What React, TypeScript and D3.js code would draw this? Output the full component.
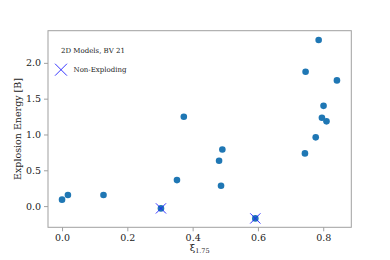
import React, { useRef, useEffect } from 'react';
import * as d3 from 'd3';

// exploding models
const xiValues = [0.0, 0.018, 0.127, 0.352, 0.373, 0.491, 0.481, 0.487, 0.744, 0.786, 0.746, 0.842, 0.801, 0.796, 0.81, 0.777];
const energyValues = [0.09, 0.154, 0.154, 0.363, 1.247, 0.79, 0.633, 0.284, 0.736, 2.32, 1.876, 1.755, 1.4, 1.233, 1.183, 0.96];

// non-exploding models
const failXi = [0.303, 0.592];
const failEnergy = [-0.032, -0.172];

const xTicks = [0.0, 0.2, 0.4, 0.6, 0.8];
const yTicks = [0.0, 0.5, 1.0, 1.5, 2.0];

const App = () => {
    const svgRef = useRef<SVGSVGElement>(null);

    useEffect(() => {
        if (!svgRef.current) return;
        const svg = d3.select(svgRef.current);
        svg.selectAll('*').remove();

        const left = 48, top = 30.7, right = 351.3, bottom = 227.3;
        const font = 'DejaVu Serif';
        const grey = '#a0a0a0';

        const x = d3.scaleLinear().domain([-0.043, 0.886]).range([left, right]);
        const y = d3.scaleLinear().domain([-0.296, 2.449]).range([bottom, top]);

        // frame
        svg.append('rect')
            .attr('x', left)
            .attr('y', top)
            .attr('width', right - left)
            .attr('height', bottom - top)
            .attr('fill', 'none')
            .attr('stroke', grey)
            .attr('stroke-width', 1);

        // x axis
        const xAxis = svg.append('g').attr('transform', `translate(0,${bottom})`)
            .call(d3.axisBottom(x).tickValues(xTicks).tickFormat(d3.format('.1f')).tickSize(4).tickPadding(3));
        xAxis.select('.domain').remove();
        xAxis.selectAll('line').attr('stroke', grey);
        xAxis.selectAll('text').attr('font-family', font).attr('font-size', 9.5).attr('fill', '#222');

        // y axis
        const yAxis = svg.append('g').attr('transform', `translate(${left},0)`)
            .call(d3.axisLeft(y).tickValues(yTicks).tickFormat(d3.format('.1f')).tickSize(4).tickPadding(3));
        yAxis.select('.domain').remove();
        yAxis.selectAll('line').attr('stroke', grey);
        yAxis.selectAll('text').attr('font-family', font).attr('font-size', 9.5).attr('fill', '#222');

        // axis labels
        const xl = svg.append('text')
            .attr('x', (left + right) / 2)
            .attr('y', 251)
            .attr('text-anchor', 'middle')
            .attr('font-family', font)
            .attr('fill', '#222');
        xl.append('tspan').attr('font-size', 10).text('ξ');
        xl.append('tspan').attr('font-size', 6.5).attr('dy', 2).text('1.75');

        svg.append('text')
            .attr('transform', `translate(21,${(top + bottom) / 2}) rotate(-90)`)
            .attr('text-anchor', 'middle')
            .attr('font-family', font)
            .attr('font-size', 9.5)
            .attr('fill', '#222')
            .text('Explosion Energy [B]');

        // points
        svg.append('g').selectAll('circle')
            .data(xiValues.map((v, i) => [v, energyValues[i]]))
            .enter()
            .append('circle')
            .attr('cx', d => x(d[0]))
            .attr('cy', d => y(d[1]))
            .attr('r', 3.3)
            .attr('fill', '#1f77b4');

        const fails = failXi.map((v, i) => [v, failEnergy[i]]);
        svg.append('g').selectAll('circle')
            .data(fails)
            .enter()
            .append('circle')
            .attr('cx', d => x(d[0]))
            .attr('cy', d => y(d[1]))
            .attr('r', 3.3)
            .attr('fill', '#1f77b4');

        const cross = d3.symbol().type(d3.symbolX).size(70);
        svg.append('g').selectAll('path')
            .data(fails)
            .enter()
            .append('path')
            .attr('transform', d => `translate(${x(d[0])},${y(d[1])})`)
            .attr('d', cross)
            .attr('fill', 'none')
            .attr('stroke', '#2020ff')
            .attr('stroke-width', 0.9);

        // legend
        svg.append('text')
            .attr('x', 61)
            .attr('y', 52.5)
            .attr('font-family', font)
            .attr('font-size', 7)
            .attr('fill', '#222')
            .text('2D Models, BV 21');

        svg.append('path')
            .attr('transform', 'translate(61,69.7)')
            .attr('d', d3.symbol().type(d3.symbolX).size(95)())
            .attr('fill', 'none')
            .attr('stroke', '#2020ff')
            .attr('stroke-width', 0.9);

        svg.append('text')
            .attr('x', 73.5)
            .attr('y', 72.2)
            .attr('font-family', font)
            .attr('font-size', 7)
            .attr('fill', '#222')
            .text('Non-Exploding');
    }, []);

    return (
        <svg ref={svgRef} width={390} height={260}
            style={{ position: 'absolute', left: 0, top: 0, background: '#fff' }} />
    );
};

export default App;
